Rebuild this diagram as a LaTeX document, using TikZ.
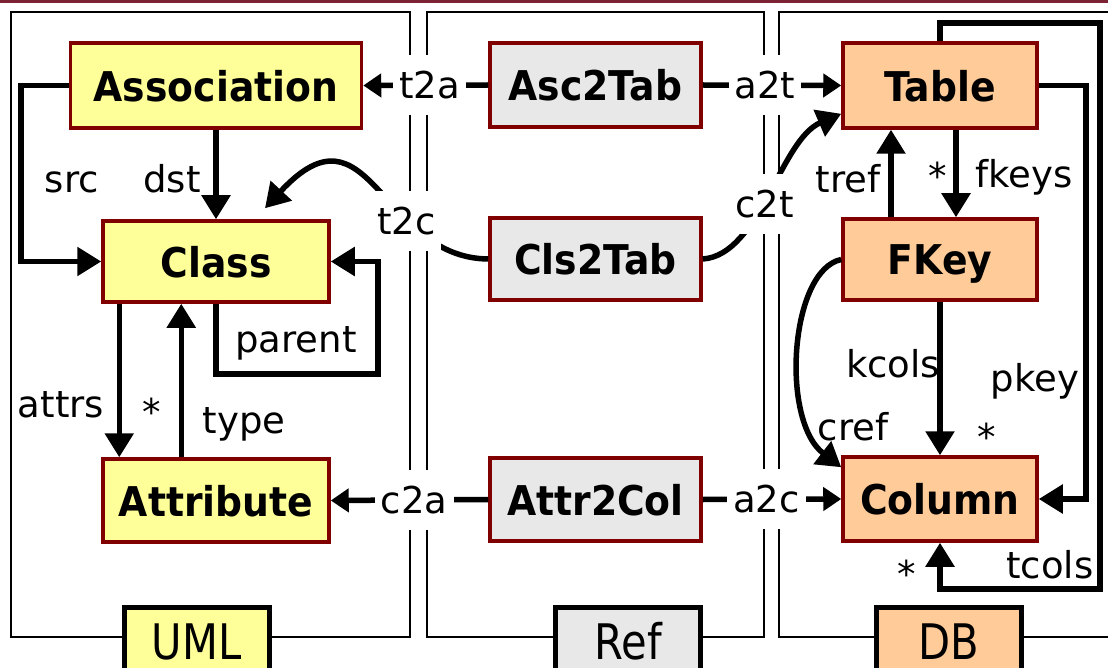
\documentclass[tikz,border=0pt]{standalone}
\usepackage{fontspec}
\setmainfont{DejaVu Sans}
\newfontfamily\boxfont{DejaVu Sans}[FakeStretch=0.92]
\newfontfamily\tagfont{DejaVu Sans}[FakeStretch=0.85]
\usetikzlibrary{arrows.meta, calc, positioning}
\definecolor{umlyellow}{HTML}{FFFF99}
\definecolor{refgray}{HTML}{E8E8E8}
\definecolor{dborange}{HTML}{FFCC99}
\definecolor{boxred}{HTML}{800000}
\definecolor{topbar}{HTML}{7B2335}
\tikzset{
    block/.style={rectangle, draw=boxred, line width=3.5pt, inner sep=0pt, text depth=0pt, font=\boxfont\bfseries\fontsize{41}{49}\selectfont, minimum width=194pt},
    umlblock/.style={block, fill=umlyellow, minimum width=226pt},
    refblock/.style={block, fill=refgray, minimum width=211pt},
    dbblock/.style={block, fill=dborange},
    frame/.style={draw, line width=2.5pt},
    tag/.style={rectangle, draw, line width=5pt, inner sep=0pt, anchor=north, minimum width=145pt, minimum height=68pt, font=\tagfont\fontsize{49}{58}\selectfont},
    lbl/.style={font=\fontsize{37}{44}\selectfont, inner sep=2pt, anchor=base},
    maplabel/.style={lbl, anchor=center, fill=white, inner xsep=6pt, inner ysep=16pt},
    arrow/.style={line width=5.5pt, -{Triangle[length=24pt, width=28pt]}},
    maparrow/.style={line width=5.5pt, -{Triangle[length=18pt, width=23pt]}}
}
\begin{document}
\begin{tikzpicture}[x=1pt, y=-1pt]
    \useasboundingbox (0,0) rectangle (1108,668);
    \fill[topbar] (0,0) rectangle (1108,3.5);

    % the three areas
    \draw[frame] (11,12) rectangle (410,637);
    \draw[frame] (427,12) rectangle (764,637);
    \draw[frame] (779,12) rectangle (1125,637);
    \node[tag, fill=umlyellow] (umltag) at (196.5,605) {UML};
    \node[tag, fill=refgray] (reftag) at (628,605) {Ref};
    \node[tag, fill=dborange] (dbtag) at (949,605) {DB};

    % UML side
    \node[umlblock, minimum width=291pt, minimum height=85pt] (assoc) at (216,85.5) {Association};
    \node[umlblock, minimum height=81pt] (class) at (216,261.5) {Class};
    \node[umlblock, minimum height=83pt] (attr) at (216,500.5) {Attribute};

    % Ref side
    \node[refblock, minimum height=84pt] (asc2tab) at (595.5,85) {Asc2Tab};
    \node[refblock, minimum height=82pt] (cls2tab) at (595.5,259) {Cls2Tab};
    \node[refblock, minimum height=83pt] (attr2col) at (595.5,499.5) {Attr2Col};

    % DB side
    \node[dbblock, minimum height=85pt] (table) at (940,85.5) {Table};
    \node[dbblock, minimum height=81pt] (fkey) at (940,259.5) {FKey};
    \node[dbblock, minimum height=84pt] (column) at (940,499) {Column};

    \draw[arrow] (assoc.south) -- (class.north);
    \draw[arrow] (assoc.west) -- ++(-48,0) |- (class.west);
    \draw[arrow] (class.south) -- ++(0,70) -| ($(class.east)+(47,0)$) -- (class.east);
    \draw[arrow] ($(class.south west)+(18,0)$) -- ($(attr.north west)+(18,0)$);
    \draw[arrow] ($(attr.north west)+(80,0)$) -- ($(class.south west)+(80,0)$);

    \draw[arrow] ($(fkey.north)+(-49,0)$) -- ($(table.south)+(-49,0)$);
    \draw[arrow] ($(table.south)+(16,0)$) -- ($(fkey.north)+(16,0)$);
    \draw[arrow] (fkey.south) -- (column.north);
    \draw[arrow] (fkey.west) .. controls (790,270) and (780,420) .. ($(column.north west)+(0,12)$);
    \draw[arrow] (table.east) -- ++(47,0) |- (column.east);
    \draw[arrow] (table.north) -- ++(0,-18) -| ($(column.south)+(160,46)$) -| (column.south);

    % mappings
    \draw[maparrow] (asc2tab.west) -- node[maplabel, pos=0.47] {t2a} (assoc.east);
    \draw[maparrow] (asc2tab.east) -- node[maplabel, pos=0.45] {a2t} (table.west);
    \draw[arrow] (cls2tab.west) .. controls (380,258) and (370,95) .. node[maplabel, pos=0.33] {t2c} ($(class.north)+(49,-11)$);
    \draw[arrow] (cls2tab.east) .. controls (760,255) and (780,140) .. node[maplabel, pos=0.45] {c2t} ($(table.south west)+(0,-16)$);
    \draw[maparrow] (attr2col.west) -- node[maplabel, pos=0.47] {c2a} (attr.east);
    \draw[maparrow] (attr2col.east) -- node[maplabel, pos=0.46] {a2c} (column.west);

    % role names
    \node[lbl] (lsrc) at (72,193) {src};
    \node[lbl] (ldst) at (172,193) {dst};
    \node[lbl] (lparent) at (296,352) {parent};
    \node[lbl] (lattrs) at (61,417) {attrs};
    \node[lbl] (lattrsmul) at (152,425) {*};
    \node[lbl] (ltype) at (244,433) {type};
    \node[lbl] (ltref) at (848,193) {tref};
    \node[lbl] (lfkeysmul) at (938,190) {*};
    \node[lbl] (lfkeys) at (1024,188) {fkeys};
    \node[lbl] (lkcols) at (893,377) {kcols};
    \node[lbl] (lpkey) at (1035,391) {pkey};
    \node[lbl] (lpkeymul) at (987,450) {*};
    \node[lbl] (lcref) at (853,440) {cref};
    \node[lbl] (ltcols) at (1050,578) {tcols};
    \node[lbl] (ltcolsmul) at (907,587) {*};
\end{tikzpicture}
\end{document}
